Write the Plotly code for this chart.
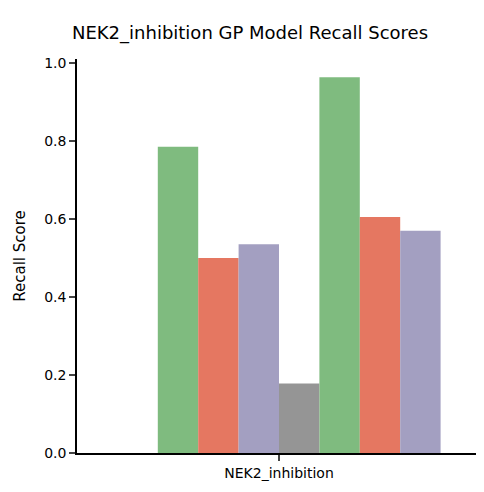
import plotly.graph_objects as go

category = ["NEK2_inhibition"]
models = ["m1", "m2", "m3", "m4", "m5", "m6", "m7", "m8"]
recall = [0.0, 0.785, 0.50, 0.535, 0.178, 0.963, 0.605, 0.57]
colors = ["#959595", "#7fbb7f", "#e57761", "#a39fc1",
          "#959595", "#7fbb7f", "#e57761", "#a39fc1"]

fig = go.Figure()
for name, val, col in zip(models, recall, colors):
    fig.add_trace(go.Bar(x=category, y=[val], name=name, marker_color=col,
                         marker_line_width=0, showlegend=False))

fig.update_layout(
    width=484, height=492,
    barmode="group", bargap=0.2, bargroupgap=0,
    plot_bgcolor="white", paper_bgcolor="white",
    font=dict(family="DejaVu Sans", size=14, color="black"),
    title=dict(text="NEK2_inhibition GP Model Recall Scores", x=0.5, y=0.963,
               xanchor="center", font=dict(size=18)),
    margin=dict(l=72, r=11, t=56, b=39),
)
fig.update_yaxes(range=[0, 1.01], dtick=0.2, tickformat=".1f",
                 title=dict(text="Recall Score", font=dict(size=15)),
                 showline=True, linecolor="black", linewidth=1.5,
                 ticks="outside", ticklen=6, tickwidth=1.5,
                 showgrid=False, zeroline=False)
fig.update_xaxes(showline=True, linecolor="black", linewidth=1.5,
                 ticks="outside", ticklen=6, tickwidth=1.5, showgrid=False)

fig.update_layout(margin=dict(l=64, r=11, t=51, b=47))
fig.write_html("out.html")
